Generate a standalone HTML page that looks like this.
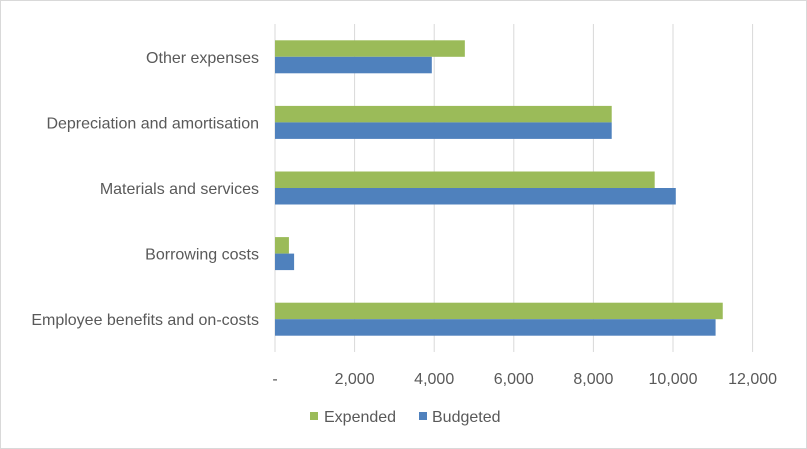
<!DOCTYPE html>
<html><head><meta charset="utf-8"><style>
body{margin:0;background:#fff;}
svg{display:block;font-family:"Liberation Sans",Arial,sans-serif;}
</style></head><body>
<svg id="chart" width="807" height="449">
<rect x="0.5" y="0.5" width="806" height="448" fill="#fff" stroke="#d9d9d9"/>
<g id="grid"></g><g id="bars"></g><g id="labels"></g>
<g>
<rect x="310" y="412" width="8" height="8" fill="#9bbb59"/>
<text x="324" y="422" font-size="16" fill="#595959">Expended</text>
<rect x="419" y="412" width="8" height="8" fill="#4f81bd"/>
<text x="432" y="422" font-size="16" fill="#595959">Budgeted</text>
</g>
</svg>
<script>
const categories=["Employee benefits and on-costs","Borrowing costs","Materials and services","Depreciation and amortisation","Other expenses"];
const expended=[11250,350,9540,8460,4770];
const budgeted=[11070,480,10070,8460,3940];
const ticks=[0,2000,4000,6000,8000,10000,12000];
const tickLabels=["-","2,000","4,000","6,000","8,000","10,000","12,000"];
const NS="http://www.w3.org/2000/svg";
const x0=275,xScale=79.6/2000,plotTop=24,plotBottom=352;
const band=(plotBottom-plotTop)/categories.length;
const X=v=>x0+v*xScale;
const yc=i=>plotBottom-band*(i+0.5);
function mk(t,a,p){const e=document.createElementNS(NS,t);for(const k in a)e.setAttribute(k,a[k]);p.appendChild(e);return e;}
const grid=document.getElementById('grid'),bars=document.getElementById('bars'),labels=document.getElementById('labels');
ticks.forEach((t,i)=>{
 const l=mk('line',{x1:X(t),x2:X(t),y1:plotTop,y2:plotBottom,stroke:'#d9d9d9','stroke-width':1},grid);
 
 
 const tx=mk('text',{x:X(t),y:384,'text-anchor':'middle','font-size':16,fill:'#595959'},labels);
 tx.textContent=tickLabels[i];
 
 
});
categories.forEach((c,i)=>{
 const y=yc(i);
 const g=mk('rect',{x:X(0),y:y-16.5,width:X(expended[i])-X(0),height:16.5,fill:'#9bbb59'},bars);
 
 
 const b=mk('rect',{x:X(0),y:y,width:X(budgeted[i])-X(0),height:16.5,fill:'#4f81bd'},bars);
 
 
 const t=mk('text',{x:259,y:y+6,'text-anchor':'end','font-size':16,fill:'#595959'},labels);
 t.textContent=c;
 
 
});
</script>
</body></html>
